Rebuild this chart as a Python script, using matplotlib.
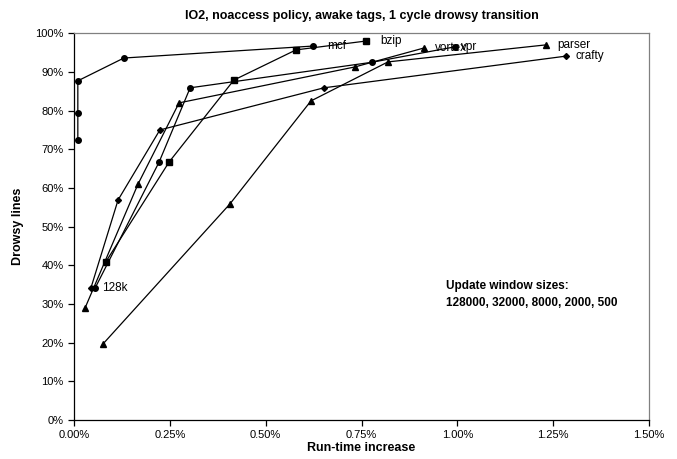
import matplotlib
matplotlib.use("Agg")
import matplotlib.pyplot as plt
from matplotlib.ticker import FuncFormatter, MultipleLocator

plt.rcParams['font.family'] = ['Liberation Sans', 'DejaVu Sans']

# window sizes 128000, 32000, 8000, 2000, 500 (left to right along each curve)
# x: run-time increase (%), y: drowsy lines (%)
mcf_x = [0.010, 0.010, 0.010, 0.130, 0.624]
mcf_y = [72.4, 79.4, 87.7, 93.6, 96.7]

bzip_x = [0.083, 0.248, 0.417, 0.579, 0.762]
bzip_y = [40.9, 66.7, 87.9, 95.7, 98.0]

vpr_x = [0.055, 0.222, 0.303, 0.777, 0.994]
vpr_y = [34.1, 66.7, 85.9, 92.5, 96.5]

crafty_x = [0.044, 0.115, 0.224, 0.652, 1.284]
crafty_y = [34.1, 56.9, 75.0, 85.9, 94.1]

vortex_x = [0.029, 0.167, 0.274, 0.733, 0.913]
vortex_y = [29.0, 61.0, 82.0, 91.3, 96.2]

parser_x = [0.076, 0.407, 0.618, 0.819, 1.231]
parser_y = [19.7, 55.9, 82.5, 92.6, 97.0]

series = [
    ("mcf", mcf_x, mcf_y, "o", 4.0, 10),
    ("bzip", bzip_x, bzip_y, "s", 4.0, 10),
    ("vortex", vortex_x, vortex_y, "^", 4.0, 8),
    ("vpr", vpr_x, vpr_y, "o", 4.0, 4),
    ("parser", parser_x, parser_y, "^", 4.0, 8),
    ("crafty", crafty_x, crafty_y, "D", 3.0, 7),
]

fig = plt.figure(figsize=(6.77, 4.59), dpi=100)
ax = fig.add_axes([0.1093, 0.085, 0.8494, 0.8425])

for name, xs, ys, mk, ms, off in series:
    ax.plot(xs, ys, color="black", lw=0.9, marker=mk, ms=ms,
            mfc="black", mec="black")
    ax.annotate(name, (xs[-1], ys[-1]), xytext=(off, 0),
                textcoords="offset points", va="center", ha="left",
                fontsize=8.5)

# label the 128k end of the curves
ax.annotate("128k", (vpr_x[0], vpr_y[0]), xytext=(5, 0),
            textcoords="offset points", va="center", ha="left", fontsize=8.5)

ax.text(0.97, 32.5, "Update window sizes:\n128000, 32000, 8000, 2000, 500",
        fontsize=8.5, fontweight="bold", va="center", ha="left",
        linespacing=1.6)

ax.set_xlim(0, 1.5)
ax.set_ylim(0, 100)
ax.xaxis.set_major_locator(MultipleLocator(0.25))
ax.yaxis.set_major_locator(MultipleLocator(10))
ax.xaxis.set_major_formatter(FuncFormatter(lambda v, p: "%.2f%%" % v))
ax.yaxis.set_major_formatter(FuncFormatter(lambda v, p: "%d%%" % v))
ax.tick_params(direction="out", length=4, width=0.9, labelsize=8)

for sp in ax.spines.values():
    sp.set_linewidth(0.9)
ax.spines["top"].set_color("#808080")
ax.spines["right"].set_color("#808080")

ax.set_xlabel("Run-time increase", fontsize=9, fontweight="bold", labelpad=1)
ax.set_ylabel("Drowsy lines", fontsize=9, fontweight="bold", labelpad=8)
ax.set_title("IO2, noaccess policy, awake tags, 1 cycle drowsy transition",
             fontsize=9, fontweight="bold", pad=10)

fig.savefig("out.png", dpi=100)
